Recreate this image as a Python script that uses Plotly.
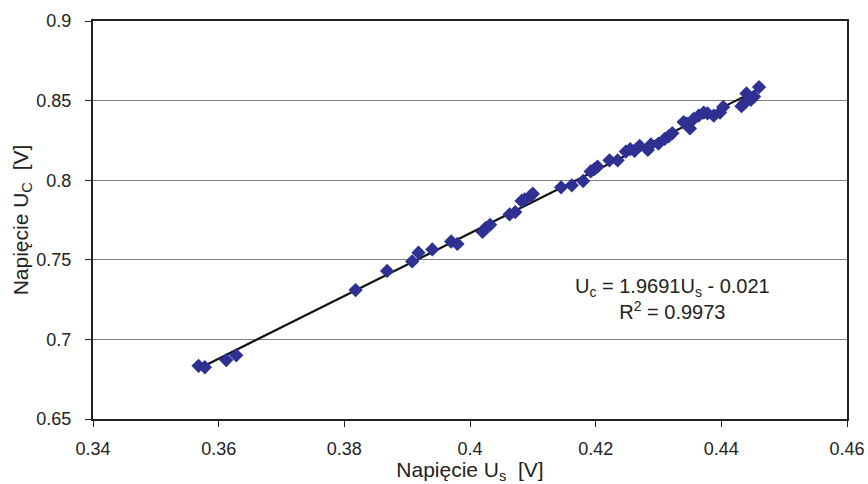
import plotly.graph_objects as go

us = [0.3568, 0.3578, 0.3612, 0.3628, 0.3818, 0.3868, 0.3908, 0.3918, 0.3940, 0.3970,
      0.3980, 0.4020, 0.4025, 0.4032, 0.4063, 0.4072, 0.4082, 0.4087, 0.4096, 0.4100,
      0.4145, 0.4162, 0.4180, 0.4192, 0.4198, 0.4203, 0.4222, 0.4235, 0.4248, 0.4255,
      0.4262, 0.4270, 0.4283, 0.4288, 0.4300, 0.4310, 0.4316, 0.4322, 0.4340, 0.4345,
      0.4350, 0.4356, 0.4364, 0.4372, 0.4378, 0.4388, 0.4398, 0.4403, 0.4432, 0.4437,
      0.4440, 0.4447, 0.4452, 0.4460]
uc = [0.6834, 0.6825, 0.6870, 0.6900, 0.7310, 0.7430, 0.7490, 0.7545, 0.7565, 0.7615,
      0.7600, 0.7675, 0.7700, 0.7720, 0.7785, 0.7800, 0.7870, 0.7880, 0.7900, 0.7915,
      0.7955, 0.7968, 0.7995, 0.8055, 0.8070, 0.8085, 0.8125, 0.8125, 0.8180, 0.8195,
      0.8185, 0.8215, 0.8190, 0.8225, 0.8230, 0.8260, 0.8275, 0.8295, 0.8365, 0.8355,
      0.8325, 0.8385, 0.8405, 0.8425, 0.8420, 0.8405, 0.8425, 0.8460, 0.8465, 0.8485,
      0.8545, 0.8505, 0.8525, 0.8585]
slope = 1.9691
intercept = -0.021
r2 = 0.9973

x_ticks = [0.34, 0.36, 0.38, 0.40, 0.42, 0.44, 0.46]
x_tick_labels = ["0.34", "0.36", "0.38", "0.4", "0.42", "0.44", "0.46"]
y_ticks = [0.65, 0.70, 0.75, 0.80, 0.85, 0.90]
y_tick_labels = ["0.65", "0.7", "0.75", "0.8", "0.85", "0.9"]

FONT = "Liberation Sans, Arial, sans-serif"
TXT = "#222222"

fit_x = [min(us), max(us)]
fit_y = [slope * v + intercept for v in fit_x]

fig = go.Figure()
fig.add_trace(go.Scatter(
    x=fit_x, y=fit_y, mode="lines",
    line=dict(color="#111111", width=2.2), hoverinfo="skip", showlegend=False))
fig.add_trace(go.Scatter(
    x=us, y=uc, mode="markers",
    marker=dict(symbol="diamond", size=11, color="#2E3192", line=dict(width=0)),
    showlegend=False))

fig.add_annotation(
    x=0.4323, y=0.7255, xref="x", yref="y", showarrow=False,
    text=f"U<sub>c</sub> = {slope}U<sub>s</sub> - {abs(intercept)}<br>R<sup>2</sup> = {r2}",
    font=dict(family=FONT, size=20, color=TXT), align="center")

axis_common = dict(
    showline=True, linecolor=TXT, linewidth=2, mirror=True,
    ticks="outside", ticklen=6, tickcolor=TXT, tickwidth=1,
    tickfont=dict(family=FONT, size=18, color=TXT),
    zeroline=False, automargin=False,
)

fig.update_xaxes(
    range=[0.34, 0.46], tickvals=x_ticks, ticktext=x_tick_labels,
    showgrid=False, ticklabelstandoff=6,
    title=dict(text="Napięcie U<sub>s</sub>  [V]", font=dict(family=FONT, size=21, color=TXT), standoff=2),
    **axis_common)
fig.update_yaxes(
    range=[0.65, 0.90], tickvals=y_ticks, ticktext=y_tick_labels,
    showgrid=True, gridcolor="#808080", gridwidth=1, ticklabelstandoff=10,
    title=dict(text="Napięcie U<sub>C</sub>  [V]", font=dict(family=FONT, size=21, color=TXT), standoff=2),
    **axis_common)

fig.update_layout(
    width=868, height=484,
    margin=dict(l=93, r=21, t=21, b=65),
    paper_bgcolor="white", plot_bgcolor="white",
    font=dict(family=FONT),
)

fig.write_html("out.html")
